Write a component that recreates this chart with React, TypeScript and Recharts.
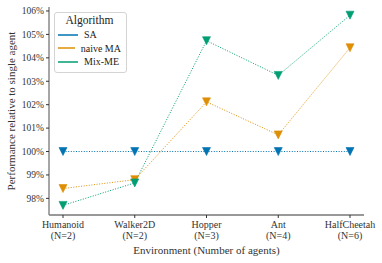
import { LineChart, Line, XAxis, YAxis } from "recharts"

const environments = ["Humanoid", "Walker2D", "Hopper", "Ant", "HalfCheetah"]
const agentCounts = [2, 2, 3, 4, 6]
const saValues = [100, 100, 100, 100, 100]
const naiveMaValues = [98.42, 98.8, 102.12, 100.71, 104.43]
const mixMeValues = [97.7, 98.66, 104.73, 103.25, 105.82]
const yTicks = [98, 99, 100, 101, 102, 103, 104, 105, 106]

const series = [
  { key: "sa", name: "SA", color: "#0173b2" },
  { key: "naive", name: "naive MA", color: "#de8f05" },
  { key: "mix", name: "Mix-ME", color: "#029e73" },
]

const data = environments.map((env, i) => ({
  env,
  sa: saValues[i],
  naive: naiveMaValues[i],
  mix: mixMeValues[i],
}))

const FONT = "Liberation Serif"

function TriangleDot(props: any) {
  const { cx, cy, stroke } = props
  if (cx == null || cy == null) return null
  const r = 4
  return (
    <path
      d={`M${cx - r},${cy - r}L${cx + r},${cy - r}L${cx},${cy + r}Z`}
      fill={stroke}
      stroke={stroke}
      strokeWidth={0.6}
    />
  )
}

function EnvTick(props: any) {
  const { x, y, payload, index } = props
  return (
    <text x={x} y={y} textAnchor="middle" fontFamily={FONT} fontSize={10} fill="#333">
      <tspan x={x} dy={8}>{payload.value}</tspan>
      <tspan x={x} dy={11}>(N={agentCounts[index]})</tspan>
    </text>
  )
}

function LegendBox() {
  return (
    <div
      style={{
        position: "absolute",
        left: 54,
        top: 12,
        width: 63,
        border: "1px solid #d4d4d4",
        borderRadius: 3,
        background: "rgba(255,255,255,0.85)",
        padding: "1px 5px 3px 3px",
        fontFamily: FONT,
        color: "#222",
        whiteSpace: "nowrap",
      }}
    >
      <div style={{ textAlign: "center", fontSize: 11.5, lineHeight: "13px", marginBottom: 1 }}>Algorithm</div>
      {series.map((s) => (
        <div key={s.key} style={{ display: "flex", alignItems: "center", fontSize: 10, lineHeight: "13.5px" }}>
          <svg width={20} height={4} style={{ marginRight: 6 }}>
            <line x1={0} y1={2} x2={20} y2={2} stroke={s.color} strokeWidth={1.5} />
          </svg>
          {s.name}
        </div>
      ))}
    </div>
  )
}

export default function App() {
  return (
    <div style={{ position: "absolute", left: 0, top: 0, width: 382, height: 263, background: "#fff", fontFamily: FONT }}>
      <LineChart width={382} height={263} data={data} margin={{ top: 7, right: 18, bottom: 0, left: 0 }}>
        <XAxis
          dataKey="env"
          interval={0}
          padding={{ left: 14, right: 14 }}
          tick={<EnvTick />}
          tickLine={{ stroke: "#333" }}
          tickSize={3}
          axisLine={{ stroke: "#333", strokeWidth: 1 }}
          height={48}
          label={{ value: "Environment (Number of agents)", position: "insideBottom", offset: 9, fontSize: 11, fill: "#333", fontFamily: FONT }}
        />
        <XAxis xAxisId="top" dataKey="env" orientation="top" tick={false} tickLine={false} axisLine={{ stroke: "#888" }} height={0} />
        <YAxis
          domain={[97.29, 106.17]}
          ticks={yTicks}
          tickFormatter={(v: number) => `${v}%`}
          tick={{ fontSize: 9.5, fill: "#333", fontFamily: FONT }}
          tickLine={{ stroke: "#333" }}
          tickSize={3}
          tickMargin={2}
          axisLine={{ stroke: "#888", strokeWidth: 1.5 }}
          width={49}
          allowDataOverflow
          label={{ value: "Performance relative to single agent", angle: -90, position: "insideLeft", offset: 11, fontSize: 11, fill: "#333", fontFamily: FONT, style: { textAnchor: "middle" } }}
        />
        <YAxis yAxisId="right" orientation="right" tick={false} tickLine={false} axisLine={{ stroke: "#888" }} width={0} />
        {series.map((s) => (
          <Line
            key={s.key}
            dataKey={s.key}
            name={s.name}
            stroke={s.color}
            strokeWidth={1}
            strokeDasharray="1 1.6"
            dot={<TriangleDot />}
            activeDot={false}
            isAnimationActive={false}
          />
        ))}
      </LineChart>
      <LegendBox />
    </div>
  )
}
